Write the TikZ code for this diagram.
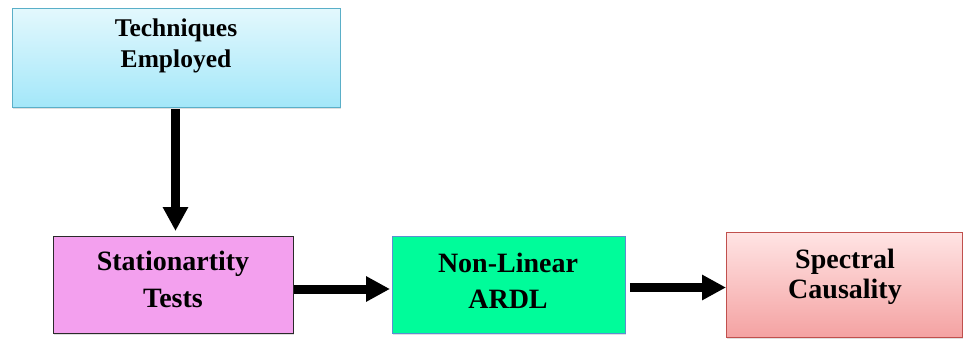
\documentclass[tikz,border=0pt]{standalone}
\usepackage{fontspec}
\setmainfont{Liberation Serif}
\usetikzlibrary{arrows.meta,shadows}
\definecolor{techtop}{HTML}{E3F8FD}
\definecolor{techbot}{HTML}{A3E7F9}
\definecolor{techline}{HTML}{5AAFC8}
\definecolor{statfill}{HTML}{F3A0EE}
\definecolor{statline}{HTML}{2A2A2A}
\definecolor{nlfill}{HTML}{00FC9A}
\definecolor{nlline}{HTML}{5B8FD0}
\definecolor{spectop}{HTML}{FFE4E4}
\definecolor{specbot}{HTML}{F4A2A2}
\definecolor{specline}{HTML}{C0504D}
\tikzset{
  boxbase/.style={draw, line width=0.9pt, inner sep=0pt, anchor=north west,
    drop shadow={shadow xshift=1pt, shadow yshift=-2pt, opacity=0.25}},
  boxtext/.style={align=center, inner sep=0pt, anchor=base},
  bigarrow/.style={line width=9pt, -{Triangle[length=24pt,width=24pt]}}
}
\begin{document}
\begin{tikzpicture}[x=1pt,y=-1pt]
\useasboundingbox (0,0) rectangle (963,339);
% boxes
\node[boxbase, draw=techline, top color=techtop, bottom color=techbot,
  minimum width=328pt, minimum height=99pt] (tech) at (12,8) {};
\node[boxbase, draw=statline, fill=statfill,
  minimum width=240pt, minimum height=97pt] (stat) at (53,236) {};
\node[boxbase, draw=nlline, fill=nlfill,
  minimum width=233pt, minimum height=97pt] (nl) at (392,236) {};
\node[boxbase, draw=specline, top color=spectop, bottom color=specbot,
  minimum width=236pt, minimum height=105pt] (spec) at (726,232) {};
% texts (base anchor = baseline of last line)
\node[boxtext, font=\fontsize{25.5}{31}\selectfont\bfseries] (techt) at (176,68) {Techniques\\Employed};
\node[boxtext, font=\fontsize{28}{37}\selectfont\bfseries] (statt) at (173,307) {Stationartity\\Tests};
\node[boxtext, font=\fontsize{28}{36}\selectfont\bfseries] (nlt) at (508,308) {Non-Linear\\ARDL};
\node[boxtext, font=\fontsize{28}{30}\selectfont\bfseries] (spect) at (845,298) {Spectral\\Causality};
% arrows
\coordinate (v1) at (175.5,0);
\draw[bigarrow, shorten <=1pt, shorten >=5pt] (tech.south -| v1) -- (stat.north -| v1);
\coordinate (a1) at (stat.east |- 0,289);
\coordinate (a1e) at (nl.west |- 0,289);
\draw[bigarrow, shorten >=2pt] (a1) -- (a1e);
\coordinate (a2) at (nl.east |- 0,287.5);
\coordinate (a2e) at (spec.west |- 0,287.5);
\draw[bigarrow, shorten <=4pt] (a2) -- (a2e);
\end{tikzpicture}
\end{document}
